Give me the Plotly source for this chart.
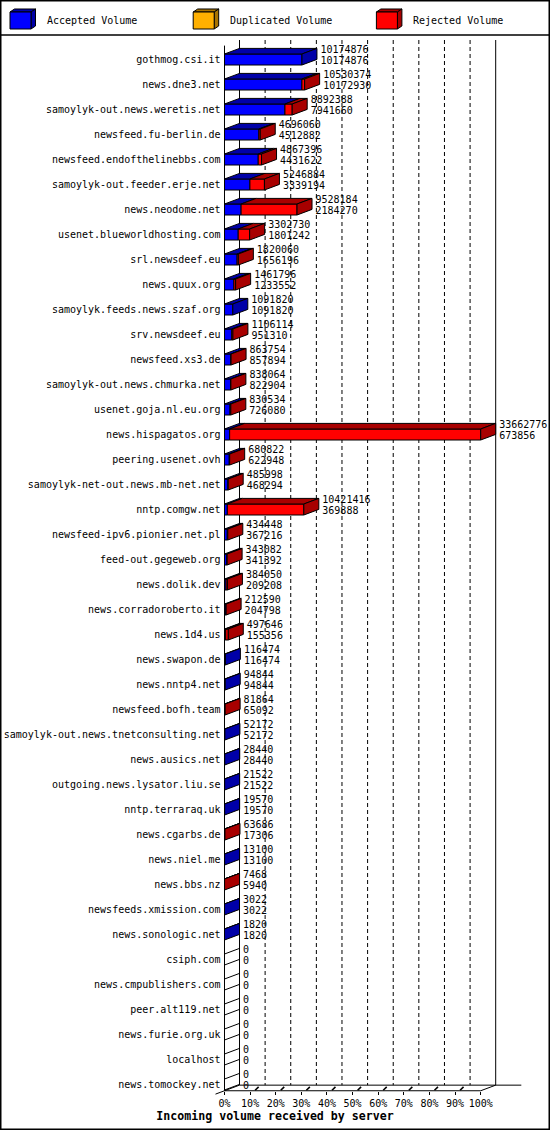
import plotly.graph_objects as go

# incoming volume per server (bytes)
servers = [
    "gothmog.csi.it", "news.dne3.net", "samoylyk-out.news.weretis.net",
    "newsfeed.fu-berlin.de", "newsfeed.endofthelinebbs.com",
    "samoylyk-out.feeder.erje.net", "news.neodome.net",
    "usenet.blueworldhosting.com", "srl.newsdeef.eu", "news.quux.org",
    "samoylyk.feeds.news.szaf.org", "srv.newsdeef.eu", "newsfeed.xs3.de",
    "samoylyk-out.news.chmurka.net", "usenet.goja.nl.eu.org",
    "news.hispagatos.org", "peering.usenet.ovh",
    "samoylyk-net-out.news.mb-net.net", "nntp.comgw.net",
    "newsfeed-ipv6.pionier.net.pl", "feed-out.gegeweb.org", "news.dolik.dev",
    "news.corradoroberto.it", "news.1d4.us", "news.swapon.de",
    "news.nntp4.net", "newsfeed.bofh.team",
    "samoylyk-out.news.tnetconsulting.net", "news.ausics.net",
    "outgoing.news.lysator.liu.se", "nntp.terraraq.uk", "news.cgarbs.de",
    "news.niel.me", "news.bbs.nz", "newsfeeds.xmission.com",
    "news.sonologic.net", "csiph.com", "news.cmpublishers.com",
    "peer.alt119.net", "news.furie.org.uk", "localhost", "news.tomockey.net",
]
total_volume = [
    10174876, 10530374, 8892388, 4696060, 4867396, 5246884, 9528184,
    3302730, 1820060, 1461796, 1091820, 1106114, 863754, 838064, 830534,
    33662776, 680822, 485998, 10421416, 434448, 343082, 384050, 212590,
    497646, 116474, 94844, 81864, 52172, 28440, 21522, 19570, 63686, 13100,
    7468, 3022, 1820, 0, 0, 0, 0, 0, 0,
]
accepted_volume = [
    10174876, 10172930, 7941660, 4512882, 4431622, 3339194, 2184270,
    1801242, 1656196, 1233552, 1091820, 951310, 857894, 822904, 726080,
    673856, 622948, 468294, 369888, 367216, 341392, 209208, 204798, 155356,
    116474, 94844, 65092, 52172, 28440, 21522, 19570, 17306, 13100, 5940,
    3022, 1820, 0, 0, 0, 0, 0, 0,
]
legend_names = ["Accepted Volume", "Duplicated Volume", "Rejected Volume"]
pct_ticks = [0, 10, 20, 30, 40, 50, 60, 70, 80, 90, 100]

# styling / geometry
W, H = 550, 1130
FONT = "DejaVu Sans Mono"
FRONT = {"acc": "#0000FF", "dup": "#FFB000", "rej": "#FF0000"}
DARK = {"acc": "#0000A8", "dup": "#A87300", "rej": "#A80000"}
PX_PCT = 2.562      # pixels per percent
X0_PX = 224.5       # pixel of 0% on the front plane
ROW_PX = 25.0
ROW0_PX = 59.5
DX = 15 / PX_PCT    # 3d depth, x
DY = 5.6 / ROW_PX   # 3d depth, y
HALF = 5.5 / ROW_PX
n = len(servers)
FLOOR = n - 1 + 0.25
TOP_BACK = (40 - ROW0_PX) / ROW_PX

vmax = max(total_volume)
acc_pct = [a / vmax * 100 for a in accepted_volume]
tot_pct = [t / vmax * 100 for t in total_volume]
rej_vol = [t - a for t, a in zip(total_volume, accepted_volume)]
rows = list(range(n))

fig = go.Figure()

# front faces
fig.add_trace(go.Bar(
    orientation="h", y=rows, x=[p if p > 0 else None for p in acc_pct], base=0,
    width=2 * HALF, marker=dict(color=FRONT["acc"], line=dict(color="black", width=1)),
))
fig.add_trace(go.Bar(
    orientation="h", y=rows,
    x=[(t - a) if r > 0 else None for t, a, r in zip(tot_pct, acc_pct, rej_vol)],
    base=acc_pct, width=2 * HALF,
    marker=dict(color=FRONT["rej"], line=dict(color="black", width=1)),
))

# top and side faces
polys = {"top_acc": ([], []), "top_rej": ([], []), "side_acc": ([], []), "side_rej": ([], [])}


def add_poly(key, pts):
    xs, ys = polys[key]
    for px, py in pts + [pts[0]]:
        xs.append(px)
        ys.append(py)
    xs.append(None)
    ys.append(None)


zero_x, zero_y = [], []
for i in rows:
    yt, yb = i - HALF, i + HALF
    if total_volume[i] == 0:
        zero_x += [0, DX, None, 0, DX, None]
        zero_y += [yt, yt - DY, None, yb, yb - DY, None]
        continue
    a, t = acc_pct[i], tot_pct[i]
    add_poly("top_acc", [(0, yt), (a, yt), (a + DX, yt - DY), (DX, yt - DY)])
    last = "acc"
    if rej_vol[i] > 0:
        add_poly("top_rej", [(a, yt), (t, yt), (t + DX, yt - DY), (a + DX, yt - DY)])
        last = "rej"
    add_poly("side_" + last, [(t, yt), (t + DX, yt - DY), (t + DX, yb - DY), (t, yb)])

for key, (xs, ys) in polys.items():
    fig.add_trace(go.Scatter(
        x=xs, y=ys, mode="lines", fill="toself", fillcolor=DARK[key.split("_")[1]],
        line=dict(color="black", width=1),
    ))
fig.add_trace(go.Scatter(x=zero_x, y=zero_y, mode="lines", line=dict(color="black", width=1)))

# value labels: total on top, accepted below
lab_x = [t + DX + 3.5 / PX_PCT for t in tot_pct]
fig.add_trace(go.Scatter(
    x=lab_x, y=[i - 0.36 for i in rows], mode="text", text=[str(v) for v in total_volume],
    textposition="middle right", textfont=dict(family=FONT, size=10, color="black"),
))
fig.add_trace(go.Scatter(
    x=lab_x, y=[i + 0.08 for i in rows], mode="text", text=[str(v) for v in accepted_volume],
    textposition="middle right", textfont=dict(family=FONT, size=10, color="black"),
))

# back wall grid, walls and floor
shapes = []
for p in pct_ticks:
    shapes.append(dict(
        type="line", xref="x", yref="y", x0=p + DX, x1=p + DX, y0=TOP_BACK, y1=FLOOR - DY,
        line=dict(color="black", width=1, dash="solid" if p in (0, 100) else "4px,3px"),
        layer="below",
    ))
line_style = dict(color="black", width=1)
shapes += [
    dict(type="line", xref="x", yref="y", x0=0, x1=0, y0=TOP_BACK + DY, y1=FLOOR, line=line_style),
    dict(type="line", xref="x", yref="y", x0=DX, x1=110 + DX, y0=FLOOR - DY, y1=FLOOR - DY, line=line_style),
    dict(type="line", xref="x", yref="y", x0=0, x1=100, y0=FLOOR, y1=FLOOR, line=line_style),
    dict(type="line", xref="x", yref="y", x0=100, x1=100 + DX, y0=FLOOR, y1=FLOOR - DY, line=line_style),
    dict(type="line", xref="x", yref="y", x0=DX, x1=-0.6 * DX, y0=FLOOR - DY, y1=FLOOR + 0.6 * DY, line=line_style),
]
for p in pct_ticks[1:-1]:
    shapes.append(dict(
        type="line", xref="x", yref="y", x0=p + 5 / PX_PCT, x1=p + 8.5 / PX_PCT,
        y0=FLOOR - 0.5 / ROW_PX, y1=FLOOR - 3.8 / ROW_PX, line=dict(color="black", width=1.6),
    ))

# outer frame and legend box
shapes.append(dict(type="rect", xref="paper", yref="paper", x0=0, x1=1, y0=0, y1=1,
                   line=dict(color="black", width=3)))
shapes.append(dict(type="line", xref="paper", yref="paper", x0=0, x1=1,
                   y0=1 - 35 / H, y1=1 - 35 / H, line=dict(color="black", width=1.5)))


def pp(px, py):
    return f"{px / W:.5f},{1 - py / H:.5f}"


annotations = []
for k, (name, key) in enumerate(zip(legend_names, ["acc", "dup", "rej"])):
    x0 = 10 + 183.2 * k
    fx1, fy0, fy1 = x0 + 21, 12, 29
    dxl, dyl = 4.5, 3
    shapes.append(dict(type="path", xref="paper", yref="paper",
                       path=f"M{pp(x0, fy0)} L{pp(fx1, fy0)} L{pp(fx1 + dxl, fy0 - dyl)} L{pp(x0 + dxl, fy0 - dyl)} Z",
                       fillcolor=DARK[key], line=dict(color="black", width=1)))
    shapes.append(dict(type="path", xref="paper", yref="paper",
                       path=f"M{pp(fx1, fy0)} L{pp(fx1 + dxl, fy0 - dyl)} L{pp(fx1 + dxl, fy1 - dyl)} L{pp(fx1, fy1)} Z",
                       fillcolor=DARK[key], line=dict(color="black", width=1)))
    shapes.append(dict(type="rect", xref="paper", yref="paper",
                       x0=x0 / W, x1=fx1 / W, y0=1 - fy1 / H, y1=1 - fy0 / H,
                       fillcolor=FRONT[key], line=dict(color="black", width=1)))
    annotations.append(dict(
        xref="paper", yref="paper", x=(x0 + 34.5) / W, y=1 - 20.7 / H, text=name,
        showarrow=False, xanchor="left", yanchor="middle",
        font=dict(family=FONT, size=10, color="black"),
    ))

fig.update_layout(
    width=W, height=H, autosize=False,
    margin=dict(l=0, r=0, t=0, b=0, pad=0),
    paper_bgcolor="white", plot_bgcolor="white",
    showlegend=False, barmode="overlay",
    shapes=shapes, annotations=annotations,
    xaxis=dict(
        range=[-X0_PX / PX_PCT, (W - X0_PX) / PX_PCT],
        anchor="free", position=1 - (ROW0_PX + FLOOR * ROW_PX) / H,
        tickvals=pct_ticks, ticktext=[f"{p}%" for p in pct_ticks],
        ticks="outside", ticklen=3, tickcolor="black", tickwidth=1,
        showgrid=False, zeroline=False, showline=False,
        tickfont=dict(family=FONT, size=10, color="black"),
        title=dict(text="Incoming volume received by server", standoff=4,
                   font=dict(family=FONT, size=11.6, color="black", weight="bold")),
        fixedrange=True,
    ),
    yaxis=dict(
        range=[(H - ROW0_PX) / ROW_PX, -ROW0_PX / ROW_PX],
        anchor="free", position=X0_PX / W,
        tickvals=rows, ticktext=servers, ticks="", ticklabelstandoff=4,
        showgrid=False, zeroline=False, showline=False,
        tickfont=dict(family=FONT, size=10, color="black"),
        fixedrange=True,
    ),
)

fig.write_html("out.html", config={"displayModeBar": False},
               post_script="document.body.style.margin='0';")
